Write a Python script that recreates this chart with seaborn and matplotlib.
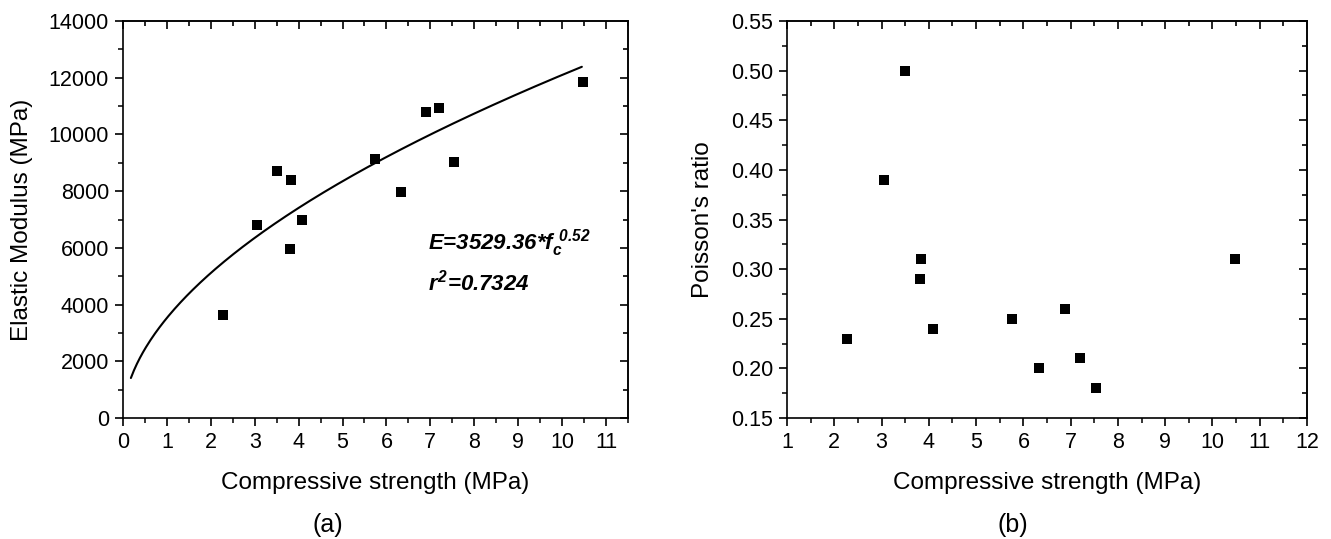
import numpy as np
import pandas as pd
import matplotlib
matplotlib.use("Agg")
import matplotlib.pyplot as plt
import seaborn as sns
from matplotlib.ticker import MultipleLocator, FormatStrFormatter

# ---- data ----
strength = [2.27, 3.05, 3.50, 3.83, 3.81, 4.08, 5.75, 6.32, 6.89, 7.20, 7.53, 10.47]
modulus = [3630, 6800, 8700, 8400, 5950, 6980, 9150, 7980, 10800, 10930, 9020, 11840]
poisson = [0.23, 0.39, 0.50, 0.31, 0.29, 0.24, 0.25, 0.20, 0.26, 0.21, 0.18, 0.31]
fit_label = r"$E$=3529.36*$f_c^{\ 0.52}$"
r2_label = r"$r^2$=0.7324"
# fitted curve as drawn in the figure
curve_coef = 3529.36
curve_exp = 0.535
curve_range = (0.18, 10.45)

df = pd.DataFrame({"strength": strength, "modulus": modulus, "poisson": poisson})
fx = np.linspace(curve_range[0], curve_range[1], 300)
fit_df = pd.DataFrame({"x": fx, "y": curve_coef * fx ** curve_exp})

sns.set_theme(style="white")
plt.rcParams['font.family'] = ['Liberation Sans', 'DejaVu Sans']
plt.rcParams['mathtext.fontset'] = 'custom'
plt.rcParams['mathtext.it'] = 'Liberation Sans:italic:bold'
plt.rcParams['mathtext.rm'] = 'Liberation Sans:italic:bold'
plt.rcParams['mathtext.bf'] = 'Liberation Sans:italic:bold'
plt.rcParams['text.color'] = 'black'
plt.rcParams['axes.labelcolor'] = 'black'

fig = plt.figure(figsize=(13.31, 5.39), dpi=100)
ax1 = fig.add_axes([0.0924, 0.2245, 0.3794, 0.7365])
ax2 = fig.add_axes([0.5913, 0.2245, 0.3907, 0.7365])

tick_fs = 15.5
lab_fs = 17.5

# left
sns.lineplot(data=fit_df, x="x", y="y", ax=ax1, color="black", linewidth=1.5)
sns.scatterplot(data=df, x="strength", y="modulus", ax=ax1, marker="s", s=62,
                color="black", edgecolor="black", linewidth=0, zorder=3)
ax1.set_xlim(0, 11.5)
ax1.set_ylim(0, 14000)
ax1.xaxis.set_major_locator(MultipleLocator(1))
ax1.xaxis.set_minor_locator(MultipleLocator(0.5))
ax1.yaxis.set_major_locator(MultipleLocator(2000))
ax1.yaxis.set_minor_locator(MultipleLocator(1000))
ax1.set_xlabel("Compressive strength (MPa)", fontsize=lab_fs)
ax1.set_ylabel("Elastic Modulus (MPa)", fontsize=lab_fs)
ax1.text(6.95, 6171, fit_label, fontsize=16, fontweight="bold", fontstyle="italic",
         va="center", ha="left")
ax1.text(6.95, 4761, r2_label, fontsize=16, fontweight="bold", fontstyle="italic",
         va="center", ha="left")

# right
sns.scatterplot(data=df, x="strength", y="poisson", ax=ax2, marker="s", s=62,
                color="black", edgecolor="black", linewidth=0, zorder=3)
ax2.set_xlim(1, 12)
ax2.set_ylim(0.15, 0.55)
ax2.xaxis.set_major_locator(MultipleLocator(1))
ax2.xaxis.set_minor_locator(MultipleLocator(0.5))
ax2.yaxis.set_major_locator(MultipleLocator(0.05))
ax2.yaxis.set_minor_locator(MultipleLocator(0.025))
ax2.yaxis.set_major_formatter(FormatStrFormatter("%.2f"))
ax2.set_xlabel("Compressive strength (MPa)", fontsize=lab_fs)
ax2.set_ylabel("Poisson's ratio", fontsize=lab_fs)

for ax, ylx in ((ax1, -0.20), (ax2, -0.1615)):
    for sp in ax.spines.values():
        sp.set_visible(True)
        sp.set_color("black")
        sp.set_linewidth(1.2)
    ax.tick_params(which="both", bottom=True, left=True, top=False, right=False,
                   labelsize=tick_fs, colors="black", direction="out")
    ax.tick_params(which="major", length=6, width=1.2)
    ax.tick_params(which="minor", length=3.3, width=1.1)
    ax.tick_params(axis="x", which="major", pad=4)
    ax.tick_params(axis="y", which="major", pad=4)
    sec_x = ax.secondary_xaxis("top")
    sec_x.xaxis.set_major_locator(MultipleLocator(1))
    sec_x.xaxis.set_minor_locator(MultipleLocator(0.5))
    sec_x.tick_params(which="both", direction="in", labeltop=False, width=1.2, colors="black")
    sec_x.tick_params(which="major", length=6)
    sec_x.tick_params(which="minor", length=3.3)
    sec_x.spines["top"].set_linewidth(1.2)
    sec_y = ax.secondary_yaxis("right")
    sec_y.yaxis.set_major_locator(MultipleLocator(ax.yaxis.get_major_locator()._edge.step))
    sec_y.yaxis.set_minor_locator(MultipleLocator(ax.yaxis.get_minor_locator()._edge.step))
    sec_y.tick_params(which="both", direction="in", labelright=False, width=1.2, colors="black")
    sec_y.tick_params(which="major", length=6)
    sec_y.tick_params(which="minor", length=3.3)
    sec_y.spines["right"].set_linewidth(1.2)
    ax.xaxis.set_label_coords(0.5, -0.164)
    ax.xaxis.label.set_va("center")
    ax.yaxis.set_label_coords(ylx, 0.5)
    ax.yaxis.label.set_va("center")

fig.text(328 / 1331, 1 - 525 / 539, "(a)", fontsize=18, ha="center", va="center")
fig.text(1013 / 1331, 1 - 525 / 539, "(b)", fontsize=18, ha="center", va="center")

fig.savefig("out.png", dpi=100)
